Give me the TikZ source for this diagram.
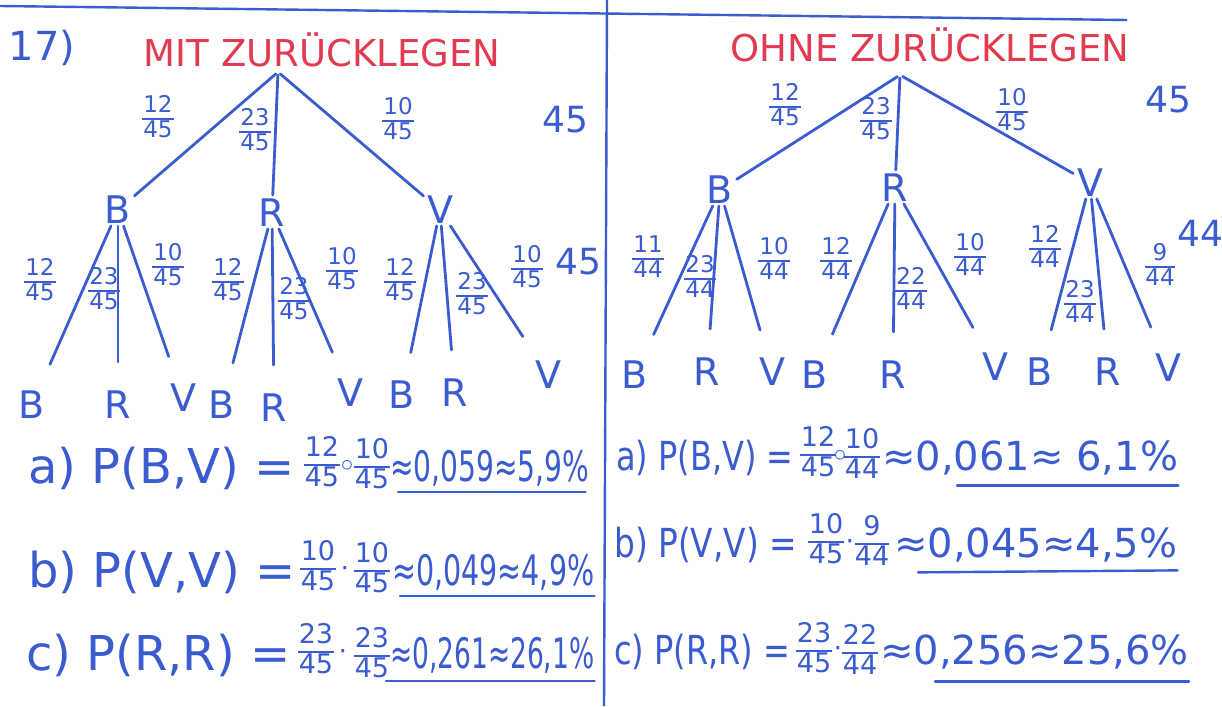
\documentclass[tikz,border=0pt]{standalone}
\usepackage{fontspec}
\setmainfont{DejaVu Sans}
\usetikzlibrary{calc}
\definecolor{ink}{RGB}{58,92,208}
\definecolor{redink}{RGB}{226,58,80}
\setlength{\arrayrulewidth}{1.6pt}
\newcommand{\fr}[2]{\begin{tabular}{@{}c@{}}\kern1pt#1\kern1pt\\[-1pt]\hline\noalign{\vskip1.5pt}#2\end{tabular}}
\newcommand{\nrw}[2]{\scalebox{#1}[1]{#2}}
\begin{document}
\begin{tikzpicture}[x=1pt,y=-1pt,
  lbl/.style={text=ink, inner sep=1pt, font=\fontsize{38}{40}\selectfont},
  frl/.style={text=ink, inner sep=0pt, font=\fontsize{23}{23}\selectfont},
  br/.style={draw=ink, line width=2.8pt, line cap=round, shorten >=3pt, shorten <=3pt},
  brt/.style={br, shorten >=28pt, shorten <=1pt},
  title/.style={text=redink, inner sep=0pt, font=\fontsize{37}{39}\selectfont},
  big/.style={text=ink, inner sep=0pt, font=\fontsize{36}{38}\selectfont},
  eq/.style={text=ink, inner sep=0pt, anchor=west},
  eqf/.style={text=ink, inner sep=0pt, font=\fontsize{27}{28}\selectfont},
  ul/.style={draw=ink, line width=2.4pt, line cap=round}
]
\useasboundingbox (0,0) rectangle (1222,706);
\fill[white] (0,0) rectangle (1222,706);

% frame lines
\coordinate (tl) at (0,6);
\coordinate (tr) at (1127,20);
\coordinate (vt) at (607,0);
\coordinate (vb) at (604,706);
\draw[ink, line width=2.4pt] (tl) -- (tr);
\draw[ink, line width=2.4pt] (vt) -- (vb);

% ===== left tree =====
\node[big, font=\fontsize{40}{42}\selectfont] (num) at (42,48) {17)};
\node[title] (tL) at (322,50) {MIT ZURÜCKLEGEN};
\coordinate (rootL) at (278,72);
\node[lbl] (B1) at (118,210) {B};
\node[lbl] (R1) at (272,213) {R};
\node[lbl] (V1) at (440,210) {V};
\draw[br] (rootL) -- (B1);
\draw[br] (rootL) -- (R1);
\draw[br] (rootL) -- (V1);
\node[frl] (f1) at (158,120) {\fr{12}{45}};
\node[frl] (f2) at (255,133) {\fr{23}{45}};
\node[frl] (f3) at (398,122) {\fr{10}{45}};
\node[big] (n45a) at (565,120) {45};

\node[lbl] (BB) at (32,405) {B};
\node[lbl] (BR) at (118,405) {R};
\node[lbl] (BV) at (183,398) {V};
\node[lbl] (RB) at (222,405) {B};
\node[lbl] (RR) at (274,408) {R};
\node[lbl] (RV) at (350,393) {V};
\node[lbl] (VB) at (402,395) {B};
\node[lbl] (VR) at (455,393) {R};
\node[lbl] (VV) at (548,375) {V};
\foreach \p/\c in {B1/BB,B1/BR,B1/BV,R1/RB,R1/RR,R1/RV,V1/VB,V1/VR,V1/VV}
  \draw[brt] (\p) -- (\c);
\node[frl] (g1) at (40,283) {\fr{12}{45}};
\node[frl] (g2) at (104,292) {\fr{23}{45}};
\node[frl] (g3) at (168,268) {\fr{10}{45}};
\node[frl] (g4) at (228,283) {\fr{12}{45}};
\node[frl] (g5) at (294,302) {\fr{23}{45}};
\node[frl] (g6) at (342,272) {\fr{10}{45}};
\node[frl] (g7) at (400,283) {\fr{12}{45}};
\node[frl] (g8) at (472,297) {\fr{23}{45}};
\node[frl] (g9) at (527,270) {\fr{10}{45}};
\node[big] (n45b) at (578,262) {45};

% ===== right tree =====
\node[title] (tR) at (930,45) {OHNE ZURÜCKLEGEN};
\coordinate (rootR) at (900,75);
\node[lbl] (B2) at (720,190) {B};
\node[lbl] (R2) at (895,188) {R};
\node[lbl] (V2) at (1090,183) {V};
\draw[br] (rootR) -- (B2);
\draw[br] (rootR) -- (R2);
\draw[br] (rootR) -- (V2);
\node[frl] (h1) at (785,108) {\fr{12}{45}};
\node[frl] (h2) at (876,122) {\fr{23}{45}};
\node[frl] (h3) at (1012,113) {\fr{10}{45}};
\node[big] (n45c) at (1168,100) {45};

\node[lbl] (BB2) at (635,375) {B};
\node[lbl] (BR2) at (707,372) {R};
\node[lbl] (BV2) at (772,372) {V};
\node[lbl] (RB2) at (815,375) {B};
\node[lbl] (RR2) at (893,375) {R};
\node[lbl] (RV2) at (995,367) {V};
\node[lbl] (VB2) at (1040,372) {B};
\node[lbl] (VR2) at (1108,372) {R};
\node[lbl] (VV2) at (1168,368) {V};
\foreach \p/\c in {B2/BB2,B2/BR2,B2/BV2,R2/RB2,R2/RR2,R2/RV2,V2/VB2,V2/VR2,V2/VV2}
  \draw[brt] (\p) -- (\c);
\node[frl] (k1) at (648,260) {\fr{11}{44}};
\node[frl] (k2) at (700,280) {\fr{23}{44}};
\node[frl] (k3) at (774,262) {\fr{10}{44}};
\node[frl] (k4) at (836,262) {\fr{12}{44}};
\node[frl] (k5) at (911,292) {\fr{22}{44}};
\node[frl] (k6) at (970,258) {\fr{10}{44}};
\node[frl] (k7) at (1045,250) {\fr{12}{44}};
\node[frl] (k8) at (1080,305) {\fr{23}{44}};
\node[frl] (k9) at (1160,268) {\fr{9}{44}};
\node[big] (n44) at (1200,233) {44};

% ===== left formulas =====
\node[eq, font=\fontsize{48}{50}\selectfont] (la) at (28,468) {a) P(B,V) =};
\node[eqf] (la1) at (322,466) {\fr{12}{45}};
\node[eqf] (lad) at (347,466) {$\circ$};
\node[eqf] (la2) at (372,468) {\fr{10}{45}};
\node[eq, font=\fontsize{42}{44}\selectfont] (lar) at (390,468) {\nrw{0.67}{≈0,059≈5,9\%}};
\draw[ul] ($(lar.south west)+(8,6)$) -- ($(lar.south east)+(-4,6)$);

\node[eq, font=\fontsize{48}{50}\selectfont] (lb) at (28,572) {b) P(V,V) =};
\node[eqf] (lb1) at (318,570) {\fr{10}{45}};
\node[eqf] (lbd) at (345,572) {·};
\node[eqf] (lb2) at (372,572) {\fr{10}{45}};
\node[eq, font=\fontsize{42}{44}\selectfont] (lbr) at (392,572) {\nrw{0.68}{≈0,049≈4,9\%}};
\draw[ul] ($(lbr.south west)+(8,6)$) -- ($(lbr.south east)+(0,6)$);

\node[eq, font=\fontsize{48}{50}\selectfont] (lc) at (26,655) {c) P(R,R) =};
\node[eqf] (lc1) at (316,653) {\fr{23}{45}};
\node[eqf] (lcd) at (343,655) {·};
\node[eqf] (lc2) at (372,657) {\fr{23}{45}};
\node[eq, font=\fontsize{42}{44}\selectfont] (lcr) at (390,655) {\nrw{0.63}{≈0,261≈26,1\%}};
\draw[ul] ($(lcr.south west)+(-4,8)$) -- ($(lcr.south east)+(0,8)$);

% ===== right formulas =====
\node[eq, font=\fontsize{40}{42}\selectfont] (ra) at (616,458) {\nrw{0.8}{a) P(B,V) =}};
\node[eqf] (ra1) at (818,456) {\fr{12}{45}};
\node[eqf] (rad) at (840,456) {$\circ$};
\node[eqf] (ra2) at (862,458) {\fr{10}{44}};
\node[eq, font=\fontsize{40}{42}\selectfont] (rar) at (882,458) {≈0,061≈ 6,1\%};
\draw[ul] ($(rar.south west)+(75,10)$) -- ($(rar.south east)+(0,10)$);

\node[eq, font=\fontsize{40}{42}\selectfont] (rb) at (614,545) {\nrw{0.82}{b) P(V,V) =}};
\node[eqf] (rb1) at (826,543) {\fr{10}{45}};
\node[eqf] (rbd) at (850,545) {·};
\node[eqf] (rb2) at (872,545) {\fr{9}{44}};
\node[eq, font=\fontsize{40}{42}\selectfont] (rbr) at (894,545) {≈0,045≈4,5\%};
\draw[ul] ($(rbr.south west)+(24,10)$) -- ($(rbr.south east)+(0,8)$);

\node[eq, font=\fontsize{40}{42}\selectfont] (rc) at (614,652) {\nrw{0.8}{c) P(R,R) =}};
\node[eqf] (rc1) at (814,652) {\fr{23}{45}};
\node[eqf] (rcd) at (838,652) {·};
\node[eqf] (rc2) at (860,654) {\fr{22}{44}};
\node[eq, font=\fontsize{40}{42}\selectfont] (rcr) at (880,652) {≈0,256≈25,6\%};
\draw[ul] ($(rcr.south west)+(55,12)$) -- ($(rcr.south east)+(0,12)$);
\end{tikzpicture}
\end{document}
